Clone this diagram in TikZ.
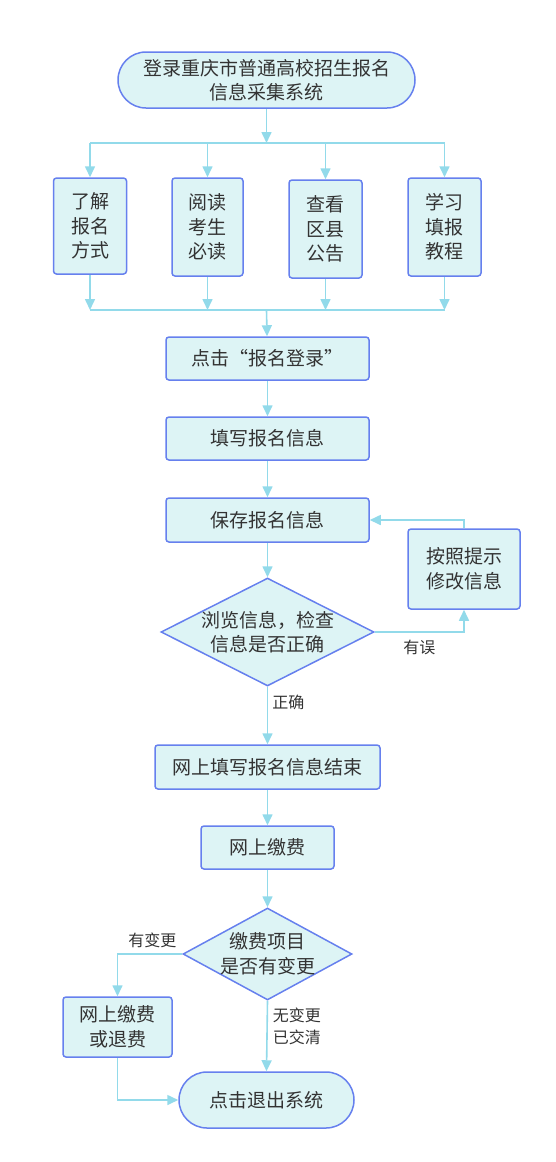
\documentclass[tikz,border=0pt]{standalone}
\usepackage{fontspec}
\setmainfont{Noto Sans CJK SC}
\usetikzlibrary{arrows.meta, positioning, shapes.geometric}
\definecolor{boxfill}{HTML}{DDF4F5}
\definecolor{boxedge}{HTML}{6680EE}
\definecolor{flowline}{HTML}{92DAEA}
\definecolor{txt}{HTML}{333333}
\tikzset{
x=1pt, y=-1pt, % one unit is one pixel of the page
flow/.style={draw=flowline, line width=1.6pt, -{Triangle[length=11pt, width=10pt]}}, % arrows between the steps
bus/.style={draw=flowline, line width=1.6pt}, % plain joining lines
stepbox/.style={rectangle, draw=boxedge, fill=boxfill, line width=1.5pt, rounded corners=3pt, text=txt, align=center, inner sep=0pt, font=\fontsize{19}{24.5}\selectfont},
terminal/.style={stepbox, rounded corners=28pt},
decision/.style={diamond, draw=boxedge, fill=boxfill, line width=1.5pt, inner sep=0pt},
note/.style={text=txt, align=center, inner sep=0pt, font=\fontsize{16}{22}\selectfont},
}
\begin{document}
\begin{tikzpicture}
        \useasboundingbox (0,0) rectangle (555,1162);

        \node[terminal, minimum width=297pt, minimum height=56pt] (start) at (266.5,80) {登录重庆市普通高校招生报名\\信息采集系统};

        \node[stepbox, minimum width=73pt, minimum height=96pt] (way) at (90,226) {了解\\报名\\方式};
        \node[stepbox, minimum width=71pt, minimum height=98pt] (read) at (207.5,227) {阅读\\考生\\必读};
        \node[stepbox, minimum width=73pt, minimum height=98pt] (notice) at (325.5,229) {查看\\区县\\公告};
        \node[stepbox, minimum width=73pt, minimum height=98pt] (guide) at (444.5,227) {学习\\填报\\教程};
        \coordinate (bustop) at (266.5,143);
        \coordinate (busbot) at (266.5,310);

        \node[stepbox, minimum width=203pt, minimum height=43pt] (login) at (267.5,358.5) {点击“报名登录”};
        \node[stepbox, minimum width=203pt, minimum height=43pt] (fill) at (267.5,438.5) {填写报名信息};
        \node[stepbox, minimum width=203pt, minimum height=44pt] (save) at (267.5,520) {保存报名信息};
        \node[decision, minimum width=213pt, minimum height=108pt,
              label={[stepbox, draw=none, fill=none]center:浏览信息，检查\\信息是否正确}] (check) at (267.5,632) {};
        \node[stepbox, minimum width=112pt, minimum height=80pt] (fix) at (464,569) {按照提示\\修改信息};
        \node[stepbox, minimum width=225pt, minimum height=44pt] (done) at (267.5,767) {网上填写报名信息结束};
        \node[stepbox, minimum width=133pt, minimum height=43pt] (pay) at (267.5,847.5) {网上缴费};
        \node[decision, minimum width=169pt, minimum height=92pt,
              label={[stepbox, draw=none, fill=none]center:缴费项目\\是否有变更}] (change) at (267.5,954) {};
        \node[stepbox, minimum width=109pt, minimum height=60pt] (refund) at (117.5,1027) {网上缴费\\或退费};
        \node[terminal, minimum width=175pt, minimum height=56pt] (exit) at (266.5,1100) {点击退出系统};

        % fan out to the four reading steps and back in
        \draw[flow] (start) -- (bustop);
        \draw[bus] (way |- bustop) -- (guide |- bustop);
        \draw[bus] (way |- busbot) -- (guide |- busbot);
        \foreach \s in {way, read, notice, guide} {
          \draw[flow] (\s |- bustop) -- (\s.north);
          \draw[flow] (\s.south) -- (\s |- busbot);
        }
        \draw[flow] (busbot) -- (login);

        \draw[flow] (login) -- (fill);
        \draw[flow] (fill) -- (save);
        \draw[flow] (save) -- (check);
        \draw[flow] (check.east) -| node[note, pos=0.25, below=7pt] {有误} (fix.south);
        \draw[flow] (fix.north) |- (save.east);
        \draw[flow] (check.south) -- node[note, pos=0.27, right=4pt] {正确} (done.north);
        \draw[flow] (done) -- (pay);
        \draw[flow] (pay) -- (change);
        \draw[flow] (change.west) -| node[note, pos=0.23, above=5pt] {有变更} (refund.north);
        \draw[flow] (change.south) -- node[note, pos=0.37, right=5pt] {无变更\\已交清} (exit.north);
        \draw[flow] (refund.south) |- (exit.west);
      \end{tikzpicture}
\end{document}
